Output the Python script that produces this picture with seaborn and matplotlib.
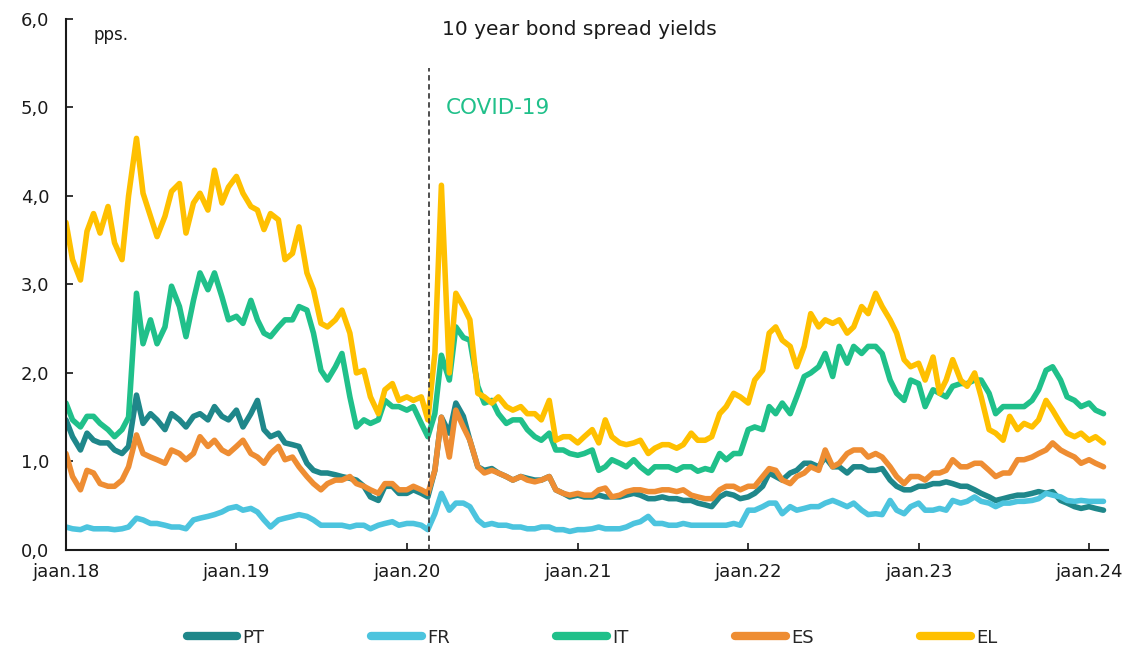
import pandas as pd
import matplotlib
matplotlib.use("Agg")
import matplotlib.pyplot as plt
import matplotlib.ticker as mticker
import seaborn as sns

# semi-monthly readings (1st and 15th of each month), Jan 2018 - Feb 2024
dates = pd.date_range("2018-01-01", "2024-02-01", freq="SMS")

pt = [1.47, 1.28, 1.13, 1.32, 1.24, 1.21, 1.21, 1.13, 1.09, 1.17, 1.75, 1.43, 1.54, 1.47, 1.36,
      1.54, 1.47, 1.39, 1.51, 1.54, 1.47, 1.62, 1.51, 1.47, 1.58, 1.39, 1.54, 1.69, 1.36,
      1.28, 1.32, 1.21, 1.19, 1.17, 0.98, 0.90, 0.87, 0.87, 0.85, 0.83, 0.81, 0.79, 0.72, 0.60,
      0.56, 0.72, 0.72, 0.64, 0.64, 0.68, 0.64, 0.60, 0.90, 1.50, 1.32, 1.66, 1.51,
      1.24, 0.94, 0.90, 0.92, 0.87, 0.83, 0.79, 0.83, 0.81, 0.79, 0.79, 0.83, 0.68, 0.64, 0.60,
      0.62, 0.60, 0.60, 0.62, 0.60, 0.60, 0.60, 0.62, 0.64, 0.62, 0.58, 0.58, 0.60,
      0.58, 0.58, 0.56, 0.56, 0.53, 0.51, 0.49, 0.60, 0.64, 0.62, 0.58, 0.60, 0.64, 0.72, 0.87,
      0.83, 0.79, 0.87, 0.90, 0.98, 0.98, 0.94, 1.05, 0.94, 0.94, 0.87, 0.94, 0.94,
      0.90, 0.90, 0.92, 0.79, 0.72, 0.68, 0.68, 0.72, 0.72, 0.75, 0.75, 0.77, 0.75, 0.72, 0.72,
      0.68, 0.64, 0.60, 0.56, 0.58, 0.60, 0.62, 0.62, 0.64, 0.66, 0.64, 0.66, 0.56, 0.53, 0.49,
      0.47, 0.49, 0.47, 0.45]

fr = [0.26, 0.24, 0.23, 0.26, 0.24, 0.24, 0.24, 0.23, 0.24, 0.26, 0.36, 0.34, 0.30, 0.30, 0.28,
      0.26, 0.26, 0.24, 0.34, 0.36, 0.38, 0.40, 0.43, 0.47, 0.49, 0.45, 0.47, 0.43, 0.34,
      0.26, 0.34, 0.36, 0.38, 0.40, 0.38, 0.34, 0.28, 0.28, 0.28, 0.28, 0.26, 0.28, 0.28, 0.24,
      0.28, 0.30, 0.32, 0.28, 0.30, 0.30, 0.28, 0.23, 0.41, 0.64, 0.45, 0.53, 0.53,
      0.49, 0.34, 0.28, 0.30, 0.28, 0.28, 0.26, 0.26, 0.24, 0.24, 0.26, 0.26, 0.23, 0.23, 0.21,
      0.23, 0.23, 0.24, 0.26, 0.24, 0.24, 0.24, 0.26, 0.30, 0.32, 0.38, 0.30, 0.30,
      0.28, 0.28, 0.30, 0.28, 0.28, 0.28, 0.28, 0.28, 0.28, 0.30, 0.28, 0.45, 0.45, 0.49, 0.53,
      0.53, 0.41, 0.49, 0.45, 0.47, 0.49, 0.49, 0.53, 0.56, 0.53, 0.49, 0.53, 0.45,
      0.40, 0.41, 0.40, 0.56, 0.45, 0.41, 0.49, 0.53, 0.45, 0.45, 0.47, 0.45, 0.56, 0.53, 0.55,
      0.60, 0.55, 0.53, 0.49, 0.53, 0.53, 0.55, 0.55, 0.56, 0.58, 0.64, 0.62, 0.60, 0.56, 0.55,
      0.56, 0.55, 0.55, 0.55]

it = [1.66, 1.47, 1.39, 1.51, 1.51, 1.43, 1.36, 1.28, 1.36, 1.50, 2.90, 2.33, 2.60, 2.33, 2.52,
      2.98, 2.75, 2.41, 2.82, 3.13, 2.94, 3.13, 2.86, 2.60, 2.64, 2.56, 2.82, 2.60, 2.45,
      2.41, 2.52, 2.60, 2.60, 2.75, 2.71, 2.45, 2.03, 1.92, 2.07, 2.22, 1.73, 1.39, 1.47, 1.43,
      1.47, 1.69, 1.62, 1.62, 1.58, 1.62, 1.43, 1.28, 1.54, 2.20, 1.92, 2.52, 2.40,
      2.37, 1.85, 1.66, 1.69, 1.54, 1.43, 1.47, 1.47, 1.36, 1.28, 1.24, 1.32, 1.13, 1.13, 1.09,
      1.07, 1.09, 1.13, 0.90, 0.94, 1.02, 0.98, 0.94, 1.02, 0.94, 0.87, 0.94, 0.94,
      0.94, 0.90, 0.94, 0.94, 0.89, 0.92, 0.90, 1.09, 1.02, 1.09, 1.09, 1.36, 1.39, 1.36, 1.62,
      1.54, 1.66, 1.54, 1.73, 1.96, 2.00, 2.07, 2.22, 1.96, 2.30, 2.11, 2.30, 2.22,
      2.30, 2.30, 2.22, 1.92, 1.77, 1.69, 1.92, 1.88, 1.62, 1.81, 1.77, 1.73, 1.85, 1.88, 1.88,
      1.92, 1.92, 1.77, 1.54, 1.62, 1.62, 1.62, 1.62, 1.69, 1.81, 2.03, 2.07, 1.92, 1.73, 1.69,
      1.62, 1.66, 1.58, 1.54]

es = [1.09, 0.83, 0.68, 0.90, 0.87, 0.75, 0.72, 0.72, 0.79, 0.94, 1.30, 1.09, 1.05, 1.02, 0.98,
      1.13, 1.09, 1.02, 1.09, 1.28, 1.17, 1.24, 1.13, 1.09, 1.17, 1.24, 1.09, 1.05, 0.98,
      1.09, 1.17, 1.02, 1.05, 0.94, 0.83, 0.75, 0.68, 0.75, 0.79, 0.79, 0.83, 0.75, 0.72, 0.68,
      0.64, 0.75, 0.75, 0.68, 0.68, 0.72, 0.68, 0.64, 0.90, 1.50, 1.05, 1.58, 1.39,
      1.24, 0.94, 0.87, 0.90, 0.87, 0.83, 0.79, 0.83, 0.79, 0.77, 0.79, 0.83, 0.68, 0.64, 0.62,
      0.64, 0.62, 0.62, 0.68, 0.70, 0.60, 0.62, 0.66, 0.68, 0.68, 0.66, 0.66, 0.68,
      0.68, 0.66, 0.68, 0.62, 0.60, 0.58, 0.58, 0.68, 0.72, 0.72, 0.68, 0.72, 0.72, 0.83, 0.92,
      0.90, 0.79, 0.75, 0.83, 0.87, 0.94, 0.90, 1.13, 0.94, 0.98, 1.09, 1.13, 1.13,
      1.05, 1.09, 1.05, 0.94, 0.83, 0.75, 0.83, 0.83, 0.79, 0.87, 0.87, 0.90, 1.02, 0.94, 0.94,
      0.98, 0.98, 0.90, 0.83, 0.87, 0.87, 1.02, 1.02, 1.05, 1.09, 1.13, 1.21, 1.13, 1.09, 1.05,
      0.98, 1.02, 0.98, 0.94]

el = [3.70, 3.28, 3.05, 3.60, 3.80, 3.58, 3.88, 3.47, 3.28, 4.00, 4.65, 4.03, 3.77, 3.54, 3.77,
      4.05, 4.14, 3.58, 3.92, 4.03, 3.84, 4.29, 3.92, 4.10, 4.22, 4.03, 3.88, 3.84, 3.62,
      3.80, 3.73, 3.28, 3.35, 3.65, 3.13, 2.94, 2.56, 2.52, 2.60, 2.71, 2.45, 2.00, 2.03, 1.73,
      1.54, 1.81, 1.88, 1.69, 1.73, 1.69, 1.73, 1.47, 2.22, 4.12, 2.00, 2.90, 2.75,
      2.60, 1.77, 1.73, 1.66, 1.73, 1.62, 1.58, 1.62, 1.54, 1.54, 1.47, 1.69, 1.24, 1.28, 1.28,
      1.21, 1.28, 1.36, 1.21, 1.47, 1.28, 1.21, 1.19, 1.21, 1.24, 1.09, 1.15, 1.19,
      1.19, 1.15, 1.19, 1.32, 1.24, 1.24, 1.28, 1.54, 1.62, 1.77, 1.73, 1.66, 1.92, 2.03, 2.45,
      2.52, 2.37, 2.30, 2.07, 2.30, 2.67, 2.52, 2.60, 2.56, 2.60, 2.45, 2.52, 2.75,
      2.67, 2.90, 2.75, 2.60, 2.45, 2.15, 2.07, 2.11, 1.92, 2.18, 1.77, 1.92, 2.15, 1.92, 1.85,
      2.00, 1.73, 1.36, 1.32, 1.24, 1.51, 1.36, 1.43, 1.39, 1.47, 1.69, 1.58, 1.43, 1.32, 1.28,
      1.32, 1.24, 1.28, 1.21]

countries = ["PT", "FR", "IT", "ES", "EL"]
colors = ["#1F878A", "#4CC4DE", "#20C08A", "#EE8D33", "#FFC000"]
year_ticks = pd.date_range("2018-01-01", "2024-01-01", freq="YS")
year_labels = ["jaan." + d.strftime("%y") for d in year_ticks]
covid_date = pd.Timestamp("2020-02-17")

wide = pd.DataFrame({"date": dates, "PT": pt, "FR": fr, "IT": it, "ES": es, "EL": el})
df = wide.melt(id_vars="date", var_name="country", value_name="spread")

sns.set_style("white")
plt.rcParams["font.family"] = ["DejaVu Sans"]

fig = plt.figure(figsize=(11.28, 6.49), dpi=100)
ax = fig.add_axes([0.0585, 0.1525, 0.9235, 0.8185])

sns.lineplot(data=df, x="date", y="spread", hue="country", hue_order=countries,
             palette=colors, linewidth=4.0, ax=ax)
for ln in ax.get_lines():
    ln.set_solid_joinstyle("round")
    ln.set_solid_capstyle("round")

ax.axvline(covid_date, ymin=0, ymax=0.908, color="#404040", lw=1.3,
           ls=(0, (3, 2)), zorder=10)
ax.text(pd.Timestamp("2020-03-24"), 4.99, "COVID-19", color="#20C08A",
        fontsize=15.5, ha="left", va="center")
ax.text(0.026, 0.97, "pps.", transform=ax.transAxes, fontsize=12,
        ha="left", va="center", color="#1a1a1a")
ax.text(0.493, 0.979, "10 year bond spread yields", transform=ax.transAxes,
        fontsize=14.5, ha="center", va="center", color="#1a1a1a")

ax.set_ylim(0, 6)
ax.set_yticks(range(0, 7))
ax.yaxis.set_major_formatter(mticker.FuncFormatter(lambda v, p: f"{v:.1f}".replace(".", ",")))
ax.set_xlim(pd.Timestamp("2018-01-01"), pd.Timestamp("2024-02-10"))
ax.set_xticks(year_ticks)
ax.set_xticklabels(year_labels)
ax.set_xlabel("")
ax.set_ylabel("")

ax.tick_params(axis="y", direction="in", length=5, width=1.3, pad=12,
               labelsize=13, labelcolor="#1a1a1a", left=True)
ax.tick_params(axis="x", direction="in", length=5, width=1.3, pad=9,
               labelsize=13, labelcolor="#1a1a1a", bottom=True)
for side in ["top", "right"]:
    ax.spines[side].set_visible(False)
for side in ["left", "bottom"]:
    ax.spines[side].set_color("#1a1a1a")
    ax.spines[side].set_linewidth(1.5)

sns.move_legend(ax, "center", bbox_to_anchor=(0.505, -0.165), ncol=5, frameon=False,
                title=None, fontsize=13, handlelength=2.8, handletextpad=0.3,
                columnspacing=5.9)
for h in ax.get_legend().get_lines():
    h.set_linewidth(6)
    h.set_solid_capstyle("round")

fig.savefig("out.png", dpi=100)
